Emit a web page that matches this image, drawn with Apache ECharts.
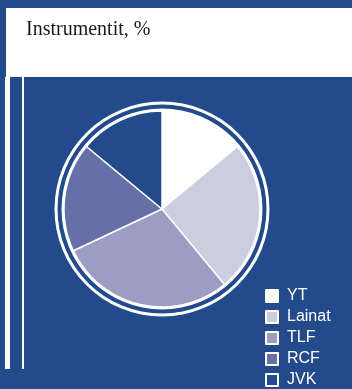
<!DOCTYPE html>
<html lang="fi">

<head>
  <meta charset="utf-8">
  <title>Instrumentit, %</title>
  <script src="https://cdn.jsdelivr.net/npm/echarts@6/dist/echarts.min.js"></script>
  <style>
    html, body {
      margin: 0;
      padding: 0;
      background: #234a8b;
    }
  </style>
</head>

<body>
  <div id="main" style="width: 352px; height: 389px;"></div>

  <script>
    // data
    var categories = ['YT', 'Lainat', 'TLF', 'RCF', 'JVK'];
    var shares = [14, 25, 29, 18, 14];
    var sliceColors = ['#ffffff', '#cdcde0', '#9c9cc5', '#6670a6', '#234a8b'];

    var bg = '#234a8b';
    var center = [162, 209];

    var myChart = echarts.init(document.getElementById('main'));

    var pieData = categories.map(function (name, i) {
      return { name: name, value: shares[i], itemStyle: { color: sliceColors[i] } };
    });

    // white rings around the pie
    function ring(inner, outer) {
      return {
        type: 'pie',
        silent: true,
        center: center,
        radius: [inner, outer],
        label: { show: false },
        labelLine: { show: false },
        itemStyle: { color: '#ffffff' },
        emphasis: { disabled: true },
        data: [{ value: 1, name: '' }]
      };
    }

    var option = {
      backgroundColor: bg,
      animation: false,
      title: {
        text: 'Instrumentit, %',
        left: 26,
        top: 20,
        padding: 0,
        textStyle: {
          fontFamily: 'Liberation Serif',
          fontWeight: 'normal',
          fontSize: 20,
          color: '#1a1a1a'
        }
      },
      // title box and the two vertical rules on the left
      graphic: [
        { type: 'rect', z: -1, shape: { x: 6, y: 8, width: 346, height: 69 }, style: { fill: '#ffffff' } },
        { type: 'rect', shape: { x: 5, y: 77, width: 5, height: 292 }, style: { fill: '#ffffff' } },
        { type: 'rect', shape: { x: 22, y: 77, width: 2, height: 292 }, style: { fill: '#ffffff' } }
      ],
      legend: {
        orient: 'vertical',
        left: 265,
        top: 288,
        padding: 0,
        height: 101,
        itemWidth: 12,
        itemHeight: 12,
        itemGap: 5,
        icon: 'rect',
        data: categories,
        textStyle: {
          color: '#ffffff',
          fontFamily: 'Liberation Sans',
          fontSize: 16,
          lineHeight: 16,
          padding: [0, 0, 0, 4]
        }
      },
      series: [
        ring(104.5, 107.5),
        ring(97, 100.5),
        {
          name: 'Instrumentit',
          type: 'pie',
          center: center,
          radius: [0, 98],
          startAngle: 90,
          clockwise: true,
          label: { show: false },
          labelLine: { show: false },
          itemStyle: {
            borderColor: '#ffffff',
            borderWidth: 1.5
          },
          data: pieData
        }
      ]
    };

    myChart.setOption(option);
  </script>
</body>

</html>
